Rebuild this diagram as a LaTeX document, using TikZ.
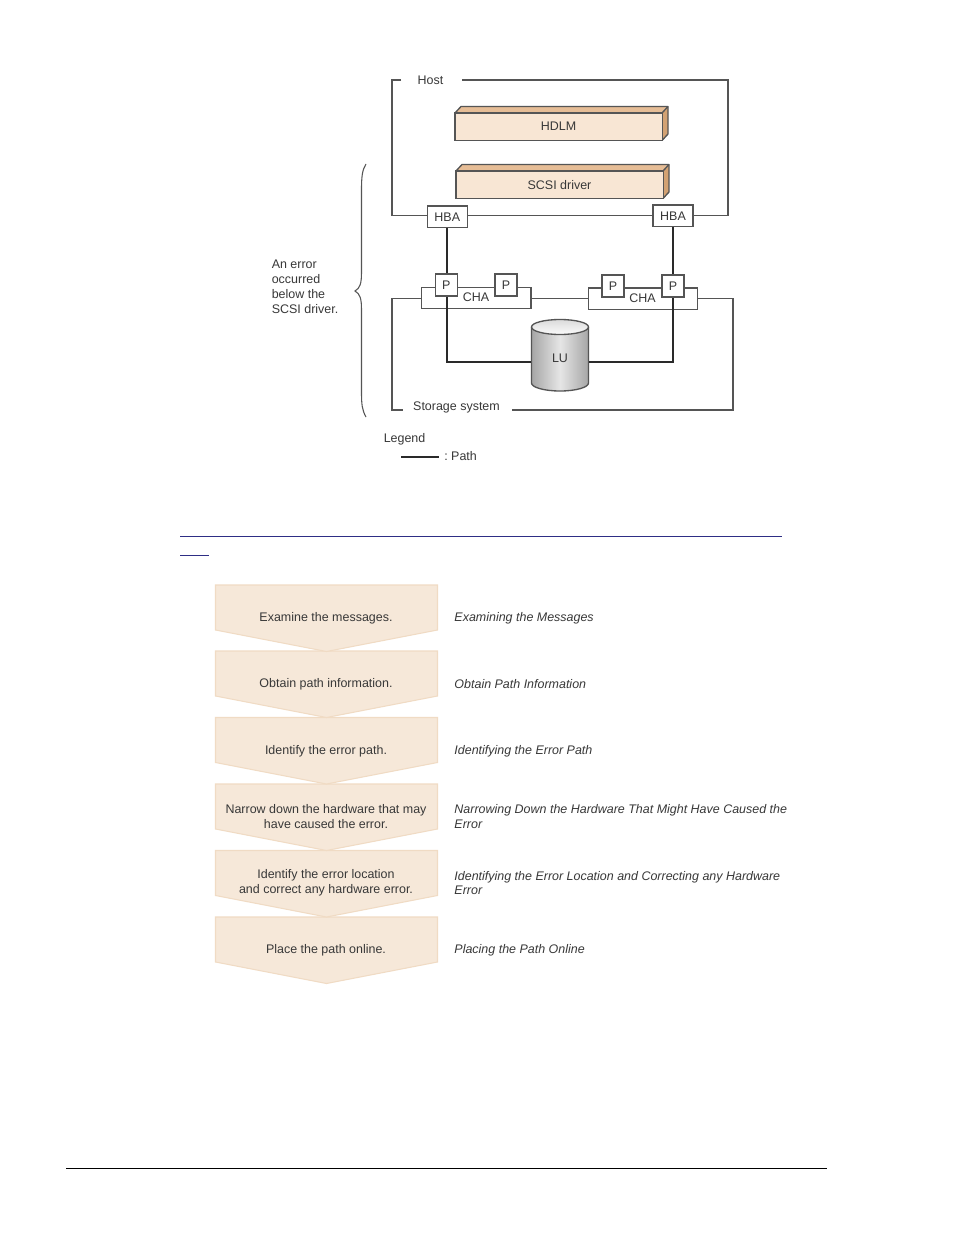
\documentclass[tikz,border=0pt]{standalone}
\usepackage{fontspec}
\setmainfont{Liberation Sans}
\definecolor{txt}{HTML}{383838}
\definecolor{frame}{HTML}{555555}
\definecolor{pathc}{HTML}{2A2A2A}
\definecolor{boxf}{HTML}{F8E6D4}
\definecolor{boxtop}{HTML}{E6BD96}
\definecolor{boxside}{HTML}{D3A273}
\definecolor{chev}{HTML}{F6E8D9}
\definecolor{chevl}{HTML}{F0DBC4}
\definecolor{linkc}{HTML}{2E2E85}
\tikzset{
  x=0.75pt, y=-0.75pt,
  lab/.style={font=\fontsize{9.35pt}{11.2pt}\selectfont, text=txt, inner sep=0pt, align=left},
  labc/.style={lab, align=center},
  frameline/.style={draw=frame, line width=1pt},
  pathline/.style={draw=pathc, line width=1.2pt},
  wbox/.style={labc, draw=frame, fill=white, line width=1pt},
  hbabox/.style={wbox, minimum width=30pt, minimum height=16pt},
  pbox/.style={wbox, minimum width=16.5pt, minimum height=16.5pt},
  chabox/.style={draw=frame, fill=white, line width=1pt, minimum width=82pt, minimum height=16pt, inner sep=0pt},
  solid3d/.style={labc, draw=frame, fill=boxf, line width=1pt, minimum width=155.5pt, minimum height=20.5pt},
  chevron/.style={fill=chev, draw=chevl, line width=0.8pt},
  steplab/.style={labc},
  reflab/.style={lab, anchor=west, font=\fontsize{9.35pt}{11.2pt}\selectfont\itshape},
}
\newcommand{\depthbox}[5]{% name, x0, x1, y0, y1
  \fill[boxtop] (#2,#4) -- ++(6,-6.5) -- (#3+6,#4-6.5) -- (#3,#4) -- cycle;
  \fill[boxside] (#3,#4) -- (#3+6,#4-6.5) -- (#3+6,#5-6.5) -- (#3,#5) -- cycle;
  \draw[frameline, line join=round] (#2,#4) -- ++(6,-6.5) -- (#3+6,#4-6.5) -- (#3+6,#5-6.5) -- (#3,#5);
  \draw[frameline] (#3,#4) -- (#3+6,#4-6.5);
}
\newcommand{\chevshape}[1]{% top y
  \path[chevron] (215.5,#1) -- (437.5,#1) -- (437.5,#1+45) -- (326.5,#1+66.5) -- (215.5,#1+45) -- cycle;
}
\begin{document}
\begin{tikzpicture}
\useasboundingbox (0,0) rectangle (954,1235);
\fill[white] (0,0) rectangle (954,1235);

% Host frame
\coordinate (hostL) at (401,80);
\coordinate (hostR) at (462,80);
\coordinate (hostBL) at (392,215.4);
\coordinate (hostBR) at (728,215.4);
\node[lab] (host) at (430.5,80.5) {Host};

% solid boxes
\depthbox{hdlm}{455}{662}{113}{140.5}
\node[solid3d] (hdlm) at (558.5,126.7) {HDLM};
\depthbox{scsi}{456}{663}{171}{198.5}
\node[solid3d] (scsi) at (559.5,184.7) {SCSI driver};

% frame and HBA boxes
\draw[frameline] (hostL) -| (hostBL) -- (hostBR) |- (hostR);
\node[hbabox] (hba1) at (447.3,216.8) {HBA};
\node[hbabox] (hba2) at (673,215.8) {HBA};

% Storage frame
\coordinate (stL) at (403,410);
\coordinate (stR) at (512,410);
\coordinate (stCL) at (392,298.5);
\coordinate (stCR) at (733,298.5);
\node[lab] (storage) at (456.5,407) {Storage system};

\node[chabox] (cha1) at (476.3,298) {};
\node[chabox] (cha2) at (643,298.7) {};
\node[labc] (cha1t) at (476,297.5) {CHA};
\node[labc] (cha2t) at (642.5,298) {CHA};
\draw[frameline] (cha1.west |- stCL) -- (stCL) -- (392,410) -- (stL);
\draw[frameline] (cha2.east |- stCR) -- (stCR) -- (733,410) -- (stR);
\draw[frameline] (cha1.east |- stCL) -- (cha2.west |- stCL);

% LU
\node[labc, minimum width=43.5pt, minimum height=53pt] (lu) at (560,355.5) {};
\shade[left color=black!35, right color=black!35, middle color=black!10]
  (531.5,327) -- (531.5,383) arc[start angle=180, end angle=0, x radius=28.5, y radius=8]
  -- (588.5,327) arc[start angle=0, end angle=-180, x radius=28.5, y radius=7.5];
\shade[top color=black!14, bottom color=black!2] (560,327) ellipse[x radius=28.5, y radius=7.5];
\draw[frameline] (531.5,327) -- (531.5,383) arc[start angle=180, end angle=0, x radius=28.5, y radius=8] -- (588.5,327);
\draw[frameline] (560,327) ellipse[x radius=28.5, y radius=7.5];
\node[labc] (lutext) at (560,358.5) {LU};

% Paths
\coordinate (bendL) at (446.8,362);
\coordinate (bendR) at (673,362);
\draw[pathline] (hba1.south -| bendL) -- (bendL) -- (lu.west |- bendL);
\draw[pathline] (hba2.south -| bendR) -- (bendR) -- (lu.east |- bendR);

% Ports
\node[pbox] (p1) at (446.3,285) {P};
\node[pbox] (p2) at (506,285) {P};
\node[pbox] (p3) at (613,286) {P};
\node[pbox] (p4) at (673,286) {P};

% Brace
\draw[draw=frame, line width=0.8pt] (366,164) .. controls (362,170) and (361.5,178) .. (361.5,190)
  -- (361.5,272) .. controls (361.5,284) and (360,288) .. (355,291)
  .. controls (360,294) and (361.5,298) .. (361.5,310)
  -- (361.5,392) .. controls (361.5,404) and (362,410) .. (366,417);
\node[lab, anchor=north west] (err) at (271.5,259.5) {An error\\occurred\\below the\\SCSI driver.};

% Legend
\node[lab, anchor=west] (legend) at (383.5,439.5) {Legend};
\coordinate (legA) at (401,457);
\coordinate (legB) at (439,457);
\draw[pathline] (legA) -- (legB);
\node[lab, anchor=west] (legp) at (444,456.5) {:\hspace{2.6pt}Path};

% Link rules
\coordinate (l1a) at (180,536.5); \coordinate (l1b) at (782,536.5);
\coordinate (l2a) at (180,555.5); \coordinate (l2b) at (209,555.5);
\draw[linkc, line width=0.8pt] (l1a) -- (l1b);
\draw[linkc, line width=0.8pt] (l2a) -- (l2b);

% Chevrons
\chevshape{917}
\chevshape{850.5}
\chevshape{784}
\chevshape{717.5}
\chevshape{651}
\chevshape{585}
\node[steplab] (s1) at (326,618) {Examine the messages.};
\node[steplab] (s2) at (326,684.5) {Obtain path information.};
\node[steplab] (s3) at (326,751) {Identify the error path.};
\node[steplab] (s4) at (326,817) {Narrow down the hardware that may\\have caused the error.};
\node[steplab] (s5) at (326,883) {Identify the error location\\and correct any hardware error.};
\node[steplab] (s6) at (326,950) {Place the path online.};
\node[reflab] (r1) at (454.2,618) {Examining the Messages};
\node[reflab] (r2) at (454.2,684.5) {Obtain Path Information};
\node[reflab] (r3) at (454.2,751) {Identifying the Error Path};
\node[reflab] (r4) at (454.2,816.5) {Narrowing Down the Hardware That Might Have Caused the\\Error};
\node[reflab] (r5) at (454.2,883) {Identifying the Error Location and Correcting any Hardware\\Error};
\node[reflab] (r6) at (454.2,950) {Placing the Path Online};

% Footer
\coordinate (fa) at (66,1168); \coordinate (fb) at (827,1168);
\draw[black, line width=0.75pt] (fa) -- (fb);
\end{tikzpicture}
\end{document}
